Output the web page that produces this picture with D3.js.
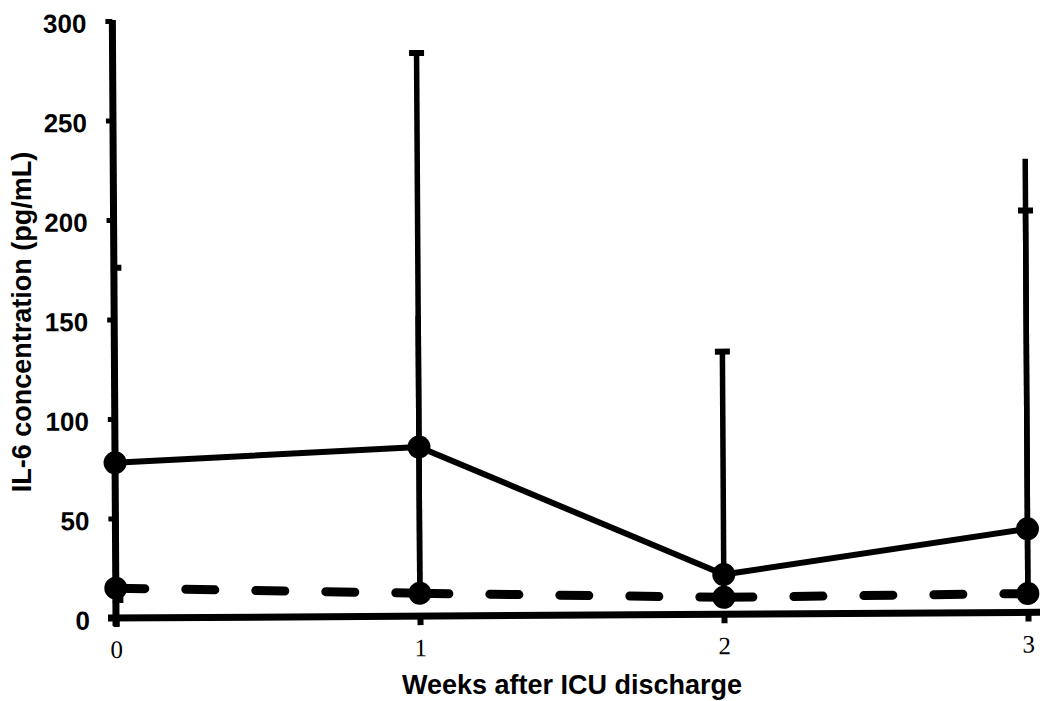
<!DOCTYPE html>
<html>
<head>
<meta charset="utf-8">
<script src="https://cdn.jsdelivr.net/npm/d3@7"></script>
<style>
  html, body { margin: 0; padding: 0; background: #fff; }
  svg { display: block; }
</style>
</head>
<body>
<svg id="chart" width="1040" height="701"></svg>
<script>
// Week positions and tick labels
const weeks = [0, 1, 2, 3];
const weekLabels = ["0", "1", "2", "3"];
const yTicks = [0, 50, 100, 150, 200, 250, 300];

// Solid series: means and error-bar ends (pg/mL)
const solidMean  = [78, 85, 20, 42];
const solidUpper = [330, 283, 132, 202];
const solidLower = [5, 12, 9, 10];
const solidUpperCap = [true, true, true, true];

// Dashed series: means and error-bar ends (pg/mL)
const dashedMean  = [15, 11.5, 8.5, 9.5];
const dashedUpper = [176, 151, null, 228];
const dashedUpperCap = [true, false, false, false];
const dashedLower = [9, null, null, null];
const dashedLowerCap = [true, false, false, false];

const xTitle = "Weeks after ICU discharge";
const yTitle = "IL-6 concentration (pg/mL)";

const svg = d3.select("#chart");
const W = 1040, H = 701;

const x = d3.scaleLinear().domain([0, 3]).range([116, 1028]);
const y = d3.scaleLinear().domain([0, 300]).range([618, 21]);

const x0 = x(0), y0 = y(0);

// plot group, tilted very slightly as in the printed figure
const g = svg.append("g").attr("transform", `rotate(-0.35, ${x0}, ${y0})`);

svg.append("defs").append("clipPath").attr("id", "plotClip")
  .append("rect").attr("x", x0 - 3).attr("y", y(300)).attr("width", W).attr("height", H);

// ---- error bars ----
function barRecords(mean, upper, lower, upCap, lowCap) {
  const recs = [];
  weeks.forEach((w, i) => {
    if (upper[i] != null) recs.push({ w, from: mean[i], to: upper[i], cap: upCap ? upCap[i] : false });
    if (lower && lower[i] != null) recs.push({ w, from: mean[i], to: lower[i], cap: lowCap ? lowCap[i] : false });
  });
  return recs;
}
const allBars = barRecords(solidMean, solidUpper, solidLower, solidUpperCap, null)
  .concat(barRecords(dashedMean, dashedUpper, dashedLower, dashedUpperCap, dashedLowerCap));

const gBars = g.append("g").attr("clip-path", "url(#plotClip)");
gBars.selectAll("line.stem").data(allBars).join("line")
  .attr("class", "stem")
  .attr("x1", d => x(d.w)).attr("x2", d => x(d.w))
  .attr("y1", d => y(d.from)).attr("y2", d => y(d.to))
  .attr("stroke", "#000").attr("stroke-width", 5.5);
gBars.selectAll("line.cap").data(allBars.filter(d => d.cap)).join("line")
  .attr("class", "cap")
  .attr("x1", d => x(d.w) - 7.5).attr("x2", d => x(d.w) + 7.5)
  .attr("y1", d => y(d.to)).attr("y2", d => y(d.to))
  .attr("stroke", "#000").attr("stroke-width", 6);

// ---- axes ----
const yAxis = d3.axisLeft(y).tickValues(yTicks).tickSize(7).tickSizeOuter(0).tickPadding(19);
const gy = g.append("g").attr("transform", `translate(${x0},0)`).call(yAxis);
gy.select(".domain").remove();
gy.selectAll(".tick line").attr("stroke", "#000").attr("stroke-width", 5);
gy.selectAll(".tick text")
  .attr("dy", "0.42em")
  .style("font-family", "'Liberation Sans', Arial, sans-serif")
  .style("font-weight", "bold")
  .style("font-size", "26px")
  .attr("fill", "#000");
g.append("line")
  .attr("x1", x0).attr("x2", x0)
  .attr("y1", y(300) - 1).attr("y2", y0 + 8)
  .attr("stroke", "#000").attr("stroke-width", 7);

const xAxis = d3.axisBottom(x).tickValues(weeks).tickFormat((d, i) => weekLabels[i])
  .tickSize(9).tickSizeOuter(0);
const gx = g.append("g").attr("transform", `translate(0,${y0})`).call(xAxis);
gx.select(".domain").remove();
gx.selectAll(".tick line").attr("stroke", "#000").attr("stroke-width", 6);
gx.selectAll(".tick text")
  .attr("y", 40).attr("dy", 0)
  .style("font-family", "'Liberation Serif', 'Times New Roman', serif")
  .style("font-size", "25px")
  .attr("fill", "#000");
g.append("line")
  .attr("x1", x0 - 8).attr("x2", W + 10)
  .attr("y1", y0).attr("y2", y0)
  .attr("stroke", "#000").attr("stroke-width", 7);

// ---- series lines ----
const solidPts = weeks.map((w, i) => [x(w), y(solidMean[i])]);
const dashedPts = weeks.map((w, i) => [x(w), y(dashedMean[i])]);
const line = d3.line();

g.append("path")
  .attr("d", line(solidPts))
  .attr("fill", "none").attr("stroke", "#000")
  .attr("stroke-width", 6).attr("stroke-linejoin", "round");

// each dashed segment restarts its dash pattern at a data point
g.append("g").selectAll("path").data(d3.pairs(dashedPts)).join("path")
  .attr("d", d => line(d))
  .attr("fill", "none").attr("stroke", "#000")
  .attr("stroke-width", 9).attr("stroke-linecap", "round")
  .attr("stroke-dasharray", "29 41");

// ---- markers ----
g.append("g").selectAll("circle").data(solidPts.concat(dashedPts)).join("circle")
  .attr("cx", d => d[0]).attr("cy", d => d[1]).attr("r", 11.5)
  .attr("fill", "#000");

// ---- titles ----
svg.append("text")
  .attr("x", 572).attr("y", 694)
  .attr("text-anchor", "middle")
  .style("font-family", "'Liberation Sans', Arial, sans-serif")
  .style("font-weight", "bold").style("font-size", "27px")
  .attr("fill", "#000")
  .text(xTitle);

svg.append("text")
  .attr("transform", "translate(31,322) rotate(-90)")
  .attr("text-anchor", "middle")
  .style("font-family", "'Liberation Sans', Arial, sans-serif")
  .style("font-weight", "bold").style("font-size", "27px")
  .attr("fill", "#000")
  .text(yTitle);
</script>
</body>
</html>
